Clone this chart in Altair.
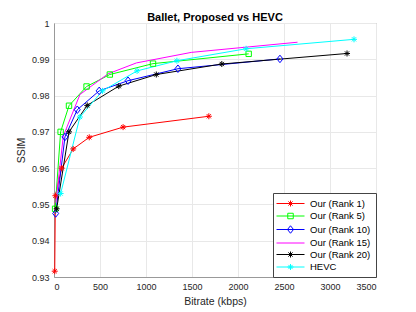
import altair as alt
import pandas as pd

series_names = ["Our (Rank 1)", "Our (Rank 5)", "Our (Rank 10)", "Our (Rank 15)", "Our (Rank 20)", "HEVC"]
series_colors = ["#ff0000", "#00ff00", "#0000ff", "#ff00ff", "#000000", "#00ffff"]

rank1_x = [8, 15, 83, 209, 383, 751, 1683]
rank1_y = [0.9316, 0.9524, 0.9600, 0.9653, 0.9685, 0.9713, 0.9743]
rank5_x = [12, 72, 163, 354, 607, 1076, 2116]
rank5_y = [0.9488, 0.9700, 0.9772, 0.9825, 0.9858, 0.9888, 0.9915]
rank10_x = [18, 119, 253, 491, 805, 1347, 2456]
rank10_y = [0.9475, 0.9686, 0.9761, 0.9813, 0.9841, 0.9874, 0.9901]
rank15_x = [20, 101, 282, 588, 896, 1492, 2647]
rank15_y = [0.9505, 0.9688, 0.9803, 0.9860, 0.9890, 0.9919, 0.9947]
rank20_x = [29, 163, 361, 704, 1112, 1824, 3185]
rank20_y = [0.9488, 0.9700, 0.9773, 0.9826, 0.9858, 0.9887, 0.9916]
hevc_x = [72, 282, 527, 903, 1336, 2088, 3261]
hevc_y = [0.9530, 0.9741, 0.9813, 0.9868, 0.9896, 0.9929, 0.9955]

x_ticks = [0, 500, 1000, 1500, 2000, 2500, 3000, 3500]
y_ticks = [0.93, 0.94, 0.95, 0.96, 0.97, 0.98, 0.99, 1.0]

all_x = [rank1_x, rank5_x, rank10_x, rank15_x, rank20_x, hevc_x]
all_y = [rank1_y, rank5_y, rank10_y, rank15_y, rank20_y, hevc_y]
rows = []
for name, xs, ys in zip(series_names, all_x, all_y):
    for xv, yv in zip(xs, ys):
        rows.append({"series": name, "bitrate": xv, "ssim": yv})
df = pd.DataFrame(rows)

# marker shapes (unit paths)
def star(s):
    d = 0.7 * s
    return (f"M {-s} 0 L {s} 0 M 0 {-s} L 0 {s} "
            f"M {-d} {-d} L {d} {d} M {-d} {d} L {d} {-d}")

def square(s):
    return f"M {-s} {-s} L {s} {-s} L {s} {s} L {-s} {s} Z"

def diamond(s):
    return f"M 0 {-1.25*s} L {s} 0 L 0 {1.25*s} L {-s} 0 Z"

plot_shapes = [star(1), square(0.9), diamond(1), "M 0 0", star(1), star(1)]
seg = "M -2.8 0 L 2.8 0 "
legend_shapes = [seg + star(0.6), seg + square(0.55), seg + diamond(0.6),
                 seg.strip(), seg + star(0.6), seg + star(0.6)]

FONT = "Liberation Sans"
color_scale = alt.Scale(domain=series_names, range=series_colors)

x_enc = alt.X("bitrate:Q", scale=alt.Scale(domain=[0, 3500], nice=False),
              axis=alt.Axis(values=x_ticks, format="d", title="Bitrate (kbps)"))
y_enc = alt.Y("ssim:Q", scale=alt.Scale(domain=[0.93, 1.0], nice=False, zero=False),
              axis=alt.Axis(values=y_ticks, format="~g", title="SSIM"))

base = alt.Chart(df).encode(x=x_enc, y=y_enc)

lines = base.mark_line(strokeWidth=1).encode(
    color=alt.Color("series:N", scale=color_scale, legend=None)
)

points = base.transform_filter(
    alt.datum.series != "Our (Rank 15)"
).mark_point(filled=False, size=36, strokeWidth=1, opacity=1).encode(
    color=alt.Color("series:N", scale=color_scale, legend=None),
    shape=alt.Shape("series:N", scale=alt.Scale(domain=series_names, range=plot_shapes), legend=None),
)

leg = alt.Legend(
    title=None, orient="none", legendX=219, legendY=170,
    padding=5, strokeColor="#444444", fillColor="white",
    symbolSize=100, symbolStrokeWidth=1, symbolOffset=7, labelOffset=14,
    labelFont=FONT, labelFontSize=9.5, labelColor="#000000", rowPadding=1.5,
    symbolOpacity=1,
)

legend_layer = base.transform_filter("false").mark_point(
    filled=False, size=36, strokeWidth=1, opacity=1
).encode(
    color=alt.Color("series:N", scale=color_scale, legend=leg),
    shape=alt.Shape("series:N", scale=alt.Scale(domain=series_names, range=legend_shapes), legend=leg),
)

chart = alt.layer(lines, points, legend_layer).resolve_scale(
    color="independent", shape="independent"
).properties(
    width=322, height=254,
    title=alt.TitleParams("Ballet, Proposed vs HEVC", fontSize=11, fontWeight="bold",
                          font=FONT, color="#000000", offset=3, anchor="middle",
                          frame="group", dy=7),
    padding={"left": 46, "top": 15, "right": 30, "bottom": 40},
    autosize=alt.AutoSizeParams(type="none"),
).configure_view(
    stroke="#999999", strokeWidth=1
).configure_axis(
    grid=True, gridColor="#e8e8e8", gridWidth=1,
    domainColor="#999999", domainWidth=1, ticks=False,
    labelFont=FONT, labelFontSize=9, labelColor="#262626",
    titleFont=FONT, titleFontSize=10.5, titleColor="#262626", titleFontWeight="normal",
    labelPadding=5, titlePadding=5,
)

chart.save("out.html", embed_options={"renderer": "svg", "actions": False})
